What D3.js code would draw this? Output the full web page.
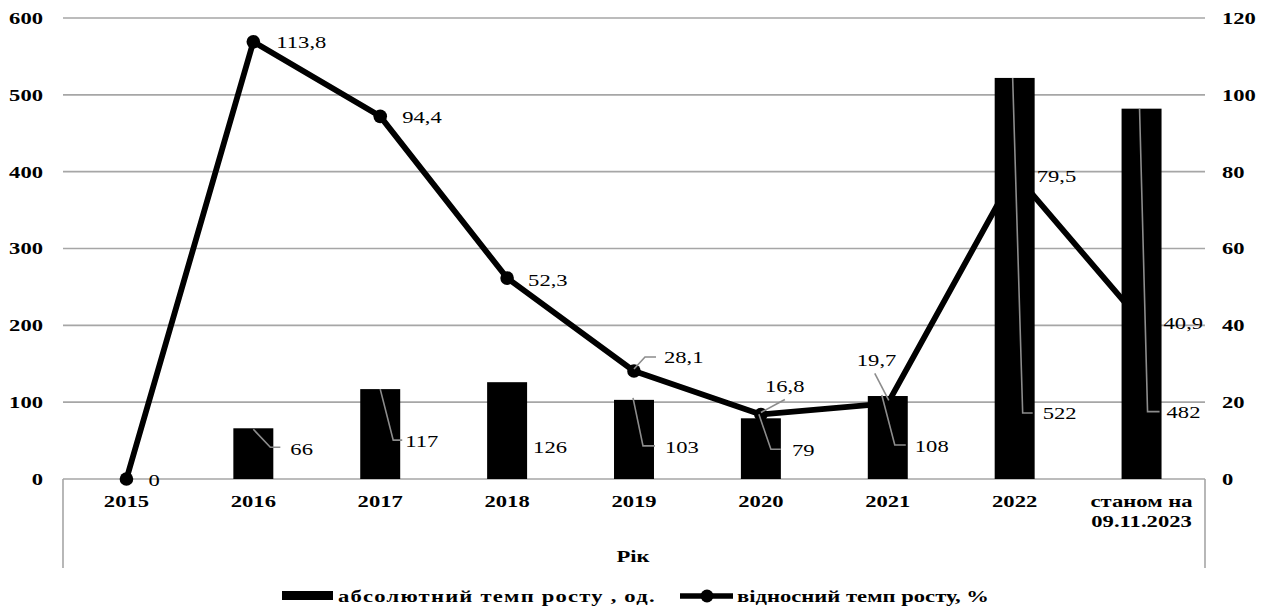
<!DOCTYPE html>
<html><head><meta charset="utf-8">
<script src="https://cdn.jsdelivr.net/npm/d3@7/dist/d3.min.js"></script>
<style>html,body{margin:0;padding:0;background:#fff;}svg{display:block;}
svg text{font-family:"Liberation Serif","Times New Roman",serif;}</style>
</head><body>
<svg id="chart" width="1268" height="610"></svg>
<script>
// ---- data ----
const categories = ["2015","2016","2017","2018","2019","2020","2021","2022","станом на|09.11.2023"];
const absoluteGrowth = [null, 66, 117, 126, 103, 79, 108, 522, 482];   // абсолютний темп росту, од.
const relativeGrowth = [0, 113.8, 94.4, 52.3, 28.1, 16.8, 19.7, 79.5, 40.9]; // відносний темп росту, %
const leftTicks = [0, 100, 200, 300, 400, 500, 600];
const rightTicks = [0, 20, 40, 60, 80, 100, 120];
const xTitle = "Рік";
const legendLabels = ["абсолютний темп росту , од.", "відносний темп росту, %"];

// ---- layout / style ----
const M = {left: 63, right: 1205, top: 18, bottom: 479};
const SX = 1.33;            // horizontal stretch of the original raster text
const GRID = "#a6a6a6", LEADER = "#8c8c8c";

const lineLabelPos = [
  {dx: 22, dy: 1},
  {dx: 23, dy: 0},
  {dx: 22, dy: 1},
  {dx: 21, dy: 2},
  {dx: 30, dy: -14, leader: [[0,-2],[11,-14],[22,-14]]},
  {dx: 4, dy: -28, leader: [[0,-2],[24,-15]]},
  {dx: -31, dy: -43, leader: [[-13,-30],[1,-3]]},
  {dx: 22, dy: 2},
  {dx: 22, dy: 1}
];
const barLabelPos = [
  null,
  {dx: 37, dy: 21, leader: [[0,1],[17,19],[27,19]]},
  {dx: 25, dy: 52, leader: [[0,0],[13,51],[22,51]]},
  {dx: 26, dy: 65},
  {dx: 31, dy: 47, leader: [[-1,-2],[9,46],[21,46]]},
  {dx: 31, dy: 32, leader: [[-2,-4],[10,31],[20,31]]},
  {dx: 27, dy: 50, leader: [[-6,-1],[7,49],[18,49]]},
  {dx: 28, dy: 335, leader: [[-2,0],[8,335],[18,335]]},
  {dx: 25, dy: 303, leader: [[-2,0],[6,303],[18,303]]}
];

const svg = d3.select("#chart");

const x = d3.scaleBand().domain(categories).range([M.left, M.right]).padding(0);
const yL = d3.scaleLinear().domain([0, 600]).range([M.bottom, M.top]);
const yR = d3.scaleLinear().domain([0, 120]).range([M.bottom, M.top]);
const barW = x.bandwidth() * 0.315;
const cx = c => x(c) + x.bandwidth() / 2;

function label(parent, px, py, str, opt = {}) {
  const t = parent.append("text")
    .attr("transform", `translate(${px},${py}) scale(${opt.sx || SX},1)`)
    .attr("text-anchor", opt.anchor || "start")
    .attr("dy", opt.dy != null ? opt.dy : "0.35em")
    .style("font-family", '"Liberation Serif","Times New Roman",serif')
    .style("font-size", (opt.size || 17) + "px")
    .style("font-weight", opt.bold ? "bold" : "normal")
    .attr("fill", "#000")
    .text(str);
  if (opt.len) t.attr("textLength", opt.len);
  return t;
}

const grid = svg.append("g");
grid.selectAll("line.g").data(leftTicks).join("line")
  .attr("x1", M.left).attr("x2", M.right)
  .attr("y1", d => yL(d)).attr("y2", d => yL(d))
  .attr("stroke", GRID).attr("stroke-width", 1.6);
grid.append("line").attr("x1", M.left).attr("x2", M.left).attr("y1", M.bottom).attr("y2", 568)
  .attr("stroke", GRID).attr("stroke-width", 1.6);
grid.append("line").attr("x1", M.right).attr("x2", M.right).attr("y1", M.bottom).attr("y2", 568)
  .attr("stroke", GRID).attr("stroke-width", 1.6);

const axL = svg.append("g");
leftTicks.forEach(t => label(axL, 43, yL(t), String(t), {anchor: "end", bold: true}));
const axR = svg.append("g");
rightTicks.forEach(t => label(axR, 1222, yR(t), String(t), {anchor: "start", bold: true}));

const axX = svg.append("g");
categories.forEach(c => {
  const parts = c.split("|");
  parts.forEach((p, i) => label(axX, cx(c), 501 + i * 20, p, {anchor: "middle", bold: true}));
});
label(svg, 633, 556, xTitle, {anchor: "middle", bold: true});

const pts = categories.map((c, i) => [cx(c), yR(relativeGrowth[i])]);
svg.append("path")
  .attr("d", d3.line()(pts))
  .attr("fill", "none").attr("stroke", "#000").attr("stroke-width", 5.8)
  .attr("stroke-linejoin", "round");
svg.append("g").selectAll("circle").data(pts).join("circle")
  .attr("cx", d => d[0]).attr("cy", d => d[1]).attr("r", 6.8).attr("fill", "#000");

const barData = categories.map((c, i) => ({c, v: absoluteGrowth[i], i})).filter(d => d.v != null);
svg.append("g").selectAll("rect").data(barData).join("rect")
  .attr("x", d => cx(d.c) - barW / 2)
  .attr("y", d => yL(d.v))
  .attr("width", barW)
  .attr("height", d => yL(0) - yL(d.v))
  .attr("fill", "#000");

const fmt = v => v === 0 ? "0" : v.toFixed(1).replace(".", ",");
const lab = svg.append("g");
const drawLeader = (px, py, leader) => {
  lab.append("path")
    .attr("d", d3.line()(leader.map(p => [px + p[0], py + p[1]])))
    .attr("fill", "none").attr("stroke", LEADER).attr("stroke-width", 1.6);
};
barData.forEach(d => {
  const p = barLabelPos[d.i];
  const px = cx(d.c), py = yL(d.v);
  if (p.leader) drawLeader(px, py, p.leader);
  label(lab, px + p.dx, py + p.dy, String(d.v));
});
relativeGrowth.forEach((v, i) => {
  const p = lineLabelPos[i];
  const [px, py] = pts[i];
  if (p.leader) drawLeader(px, py, p.leader);
  label(lab, px + p.dx, py + p.dy, fmt(v));
});

const lg = svg.append("g");
lg.append("rect").attr("x", 282).attr("y", 591).attr("width", 51).attr("height", 9).attr("fill", "#000");
label(lg, 338, 596, legendLabels[0], {bold: true, len: 238});
lg.append("line").attr("x1", 680).attr("x2", 733).attr("y1", 596).attr("y2", 596)
  .attr("stroke", "#000").attr("stroke-width", 5.5);
lg.append("circle").attr("cx", 707).attr("cy", 596).attr("r", 6.5).attr("fill", "#000");
label(lg, 737, 596, legendLabels[1], {bold: true});
</script>
</body></html>
